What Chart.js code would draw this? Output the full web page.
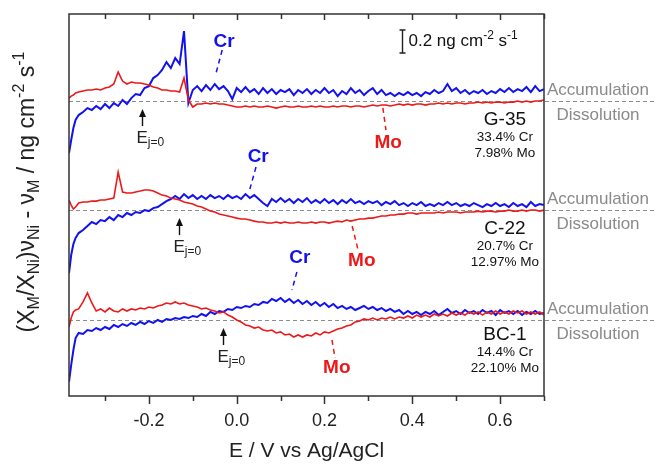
<!DOCTYPE html>
<html>
<head>
<meta charset="utf-8">
<script src="https://cdn.jsdelivr.net/npm/chart.js@4.4.1/dist/chart.umd.min.js"></script>
<style>
  html, body { margin: 0; padding: 0; background: #fff; }
  #wrap { width: 655px; height: 464px; position: relative; }
</style>
</head>
<body>
<div id="wrap"><canvas id="chart"></canvas></div>
<script>
// potential axis (V vs Ag/AgCl)
const potential = [
  -0.382, -0.377, -0.372, -0.367,
  -0.36, -0.35, -0.34, -0.33, -0.32, -0.31, -0.30, -0.29, -0.28, -0.27,
  -0.26, -0.25, -0.24, -0.23, -0.22, -0.21, -0.20, -0.19, -0.18, -0.17,
  -0.16, -0.15, -0.14, -0.13, -0.12, -0.11, -0.10, -0.09, -0.08, -0.07,
  -0.06, -0.05, -0.04, -0.03, -0.02, -0.01, 0.00, 0.01, 0.02, 0.03,
  0.04, 0.05, 0.06, 0.07, 0.08, 0.09, 0.10, 0.11, 0.12, 0.13,
  0.14, 0.15, 0.16, 0.17, 0.18, 0.19, 0.20, 0.21, 0.22, 0.23,
  0.24, 0.25, 0.26, 0.27, 0.28, 0.29, 0.30, 0.31, 0.32, 0.33,
  0.34, 0.35, 0.36, 0.37, 0.38, 0.39, 0.40, 0.41, 0.42, 0.43,
  0.44, 0.45, 0.46, 0.47, 0.48, 0.49, 0.50, 0.51, 0.52, 0.53,
  0.54, 0.55, 0.56, 0.57, 0.58, 0.59, 0.60, 0.61, 0.62, 0.63,
  0.64, 0.65, 0.66, 0.67, 0.68, 0.69, 0.70
];

// G-35 (ng cm-2 s-1, relative to its own zero line)
const g35Cr = [
  -0.452, -0.339, -0.235, -0.165,
  -0.122, -0.096, -0.061, -0.078, -0.043, -0.070, -0.026, -0.061, -0.017, -0.043,
  0.009, -0.026, 0.026, 0.061, 0.052, 0.113, 0.130, 0.200, 0.226, 0.270,
  0.339, 0.287, 0.374, 0.322, 0.609, -0.017, 0.096, 0.130, 0.087, 0.139,
  0.096, 0.148, 0.104, 0.130, 0.087, 0.017, 0.113, 0.078, 0.122, 0.078,
  0.104, 0.061, 0.113, 0.070, 0.104, 0.061, 0.096, 0.078, 0.104, 0.052,
  0.096, 0.070, 0.104, 0.061, 0.096, 0.070, 0.113, 0.070, 0.096, 0.043,
  0.087, 0.061, 0.113, 0.070, 0.096, 0.052, 0.087, 0.113, 0.061, 0.096,
  0.052, 0.070, 0.043, 0.070, 0.052, 0.078, 0.052, 0.070, 0.043, 0.078,
  0.061, 0.096, 0.070, 0.087, 0.148, 0.087, 0.113, 0.070, 0.096, 0.061,
  0.087, 0.070, 0.096, 0.061, 0.087, 0.070, 0.104, 0.078, 0.113, 0.078,
  0.104, 0.087, 0.122, 0.078, 0.130, 0.087, 0.104
];
const g35Mo = [
  0.026, 0.043, 0.052, 0.070,
  0.078, 0.087, 0.096, 0.096, 0.104, 0.096, 0.113, 0.122, 0.148, 0.252,
  0.174, 0.148, 0.165, 0.157, 0.157, 0.148, 0.139, 0.122, 0.113, 0.096,
  0.096, 0.087, 0.087, 0.078, 0.200, 0.009, -0.052, -0.026, -0.026, -0.017,
  -0.026, -0.017, -0.026, -0.026, -0.035, -0.043, -0.052, -0.052, -0.043, -0.052,
  -0.043, -0.052, -0.052, -0.043, -0.052, -0.061, -0.052, -0.043, -0.052, -0.052,
  -0.043, -0.052, -0.052, -0.043, -0.052, -0.043, -0.052, -0.052, -0.043, -0.052,
  -0.043, -0.043, -0.052, -0.043, -0.043, -0.052, -0.043, -0.035, -0.043, -0.035,
  -0.035, -0.043, -0.035, -0.026, -0.035, -0.026, -0.035, -0.026, -0.026, -0.035,
  -0.026, -0.026, -0.017, -0.026, -0.017, -0.026, -0.017, -0.017, -0.026, -0.017,
  -0.017, -0.009, -0.017, -0.009, -0.017, -0.009, -0.009, -0.017, -0.009, -0.009,
  0, -0.009, 0, -0.009, 0, 0, 0.009
];

// C-22
const c22Cr = [
  -0.548, -0.391, -0.296, -0.243,
  -0.200, -0.174, -0.139, -0.104, -0.122, -0.087, -0.096, -0.061, -0.087, -0.043,
  -0.061, -0.026, -0.043, -0.017, -0.026, 0, -0.009, 0.017, 0.026, 0.052,
  0.078, 0.096, 0.122, 0.096, 0.139, 0.104, 0.130, 0.096, 0.122, 0.096,
  0.130, 0.104, 0.122, 0.096, 0.130, 0.104, 0.122, 0.096, 0.139, 0.104,
  0.130, 0.096, 0.061, 0.035, 0.096, 0.070, 0.104, 0.070, 0.096, 0.061,
  0.096, 0.070, 0.104, 0.061, 0.087, 0.061, 0.096, 0.061, 0.087, 0.052,
  0.087, 0.061, 0.096, 0.061, 0.078, 0.052, 0.078, 0.061, 0.078, 0.043,
  0.070, 0.052, 0.078, 0.043, 0.061, 0.035, 0.061, 0.043, 0.070, 0.035,
  0.052, 0.035, 0.061, 0.043, 0.070, 0.043, 0.061, 0.035, 0.052, 0.035,
  0.061, 0.043, 0.026, 0.052, 0.035, 0.061, 0.035, 0.052, 0.026, 0.061,
  0.035, 0.052, 0.026, 0.070, 0.035, 0.052, 0.043
];
const c22Mo = [
  0.087, 0.043, 0.009, 0.026,
  0.061, 0.070, 0.070, 0.078, 0.078, 0.087, 0.087, 0.096, 0.104, 0.330,
  0.157, 0.148, 0.148, 0.157, 0.165, 0.174, 0.174, 0.165, 0.148, 0.130,
  0.122, 0.104, 0.096, 0.087, 0.070, 0.061, 0.052, 0.035, 0.026, 0.009,
  -0.009, -0.017, -0.035, -0.043, -0.052, -0.061, -0.070, -0.078, -0.078, -0.087,
  -0.096, -0.104, -0.104, -0.113, -0.113, -0.104, -0.113, -0.104, -0.113, -0.113,
  -0.104, -0.113, -0.113, -0.104, -0.113, -0.104, -0.104, -0.113, -0.104, -0.096,
  -0.104, -0.087, -0.096, -0.087, -0.078, -0.078, -0.070, -0.070, -0.061, -0.052,
  -0.052, -0.043, -0.043, -0.035, -0.035, -0.026, -0.026, -0.035, -0.026, -0.026,
  -0.026, -0.026, -0.017, -0.026, -0.017, -0.017, -0.017, -0.026, -0.017, -0.017,
  -0.017, -0.009, -0.017, -0.009, -0.009, -0.017, -0.009, -0.009, 0, -0.009,
  -0.009, 0, -0.009, 0, 0, -0.009, 0
];

// BC-1
const bc1Cr = [
  -0.539, -0.391, -0.261, -0.157,
  -0.113, -0.122, -0.087, -0.096, -0.070, -0.087, -0.061, -0.078, -0.043, -0.061,
  -0.035, -0.052, -0.026, -0.043, -0.017, -0.035, -0.009, -0.026, 0, -0.017,
  0.009, 0, 0.017, 0.009, 0.026, 0.017, 0.035, 0.026, 0.052, 0.035,
  0.070, 0.052, 0.078, 0.070, 0.096, 0.087, 0.113, 0.104, 0.122, 0.113,
  0.139, 0.130, 0.157, 0.148, 0.183, 0.165, 0.191, 0.157, 0.183, 0.148,
  0.174, 0.139, 0.165, 0.130, 0.157, 0.122, 0.148, 0.113, 0.139, 0.104,
  0.122, 0.096, 0.113, 0.087, 0.104, 0.122, 0.096, 0.113, 0.087, 0.104,
  0.078, 0.096, 0.070, 0.087, 0.052, 0.078, 0.052, 0.070, 0.043, 0.070,
  0.052, 0.078, 0.043, 0.070, 0.096, 0.061, 0.078, 0.052, 0.087, 0.061,
  0.078, 0.052, 0.087, 0.061, 0.078, 0.043, 0.087, 0.061, 0.078, 0.052,
  0.078, 0.043, 0.070, 0.052, 0.078, 0.052, 0.061
];
const bc1Mo = [
  -0.061, 0.017, 0.070, 0.087,
  0.096, 0.157, 0.235, 0.148, 0.078, 0.096, 0.070, 0.104, 0.078, 0.070,
  0.096, 0.078, 0.096, 0.087, 0.104, 0.096, 0.113, 0.104, 0.122, 0.130,
  0.148, 0.139, 0.157, 0.139, 0.148, 0.130, 0.122, 0.113, 0.096, 0.104,
  0.087, 0.078, 0.061, 0.070, 0.043, 0.026, 0, -0.017, -0.043, -0.052,
  -0.070, -0.061, -0.087, -0.096, -0.087, -0.113, -0.104, -0.130, -0.122, -0.148,
  -0.130, -0.148, -0.130, -0.139, -0.113, -0.130, -0.104, -0.113, -0.096, -0.078,
  -0.070, -0.052, -0.043, -0.017, -0.009, 0.009, 0, 0.017, 0, 0.017,
  0.009, 0.026, 0.009, 0.026, 0.017, 0.035, 0.017, 0.043, 0.026, 0.043,
  0.026, 0.052, 0.035, 0.052, 0.035, 0.061, 0.043, 0.061, 0.043, 0.070,
  0.052, 0.070, 0.043, 0.070, 0.052, 0.078, 0.052, 0.070, 0.052, 0.078,
  0.061, 0.078, 0.052, 0.070, 0.052, 0.070, 0.043
];

const alloys = ["G-35", "C-22", "BC-1"];
const crContent = ["33.4% Cr", "20.7% Cr", "14.4% Cr"];
const moContent = ["7.98% Mo", "12.97% Mo", "22.10% Mo"];
const offsets = [1.904, 0.956, 0];          // vertical shift of each alloy
const zeroCurrentE = [-0.216, -0.131, -0.031]; // E at j = 0
const majorTicks = [-0.2, 0, 0.2, 0.4, 0.6];
const minorTicks = [-0.3, -0.1, 0.1, 0.3, 0.5, 0.7];

const CR_COLOR = "#1212ee";
const MO_COLOR = "#ee1818";
const FONT = "'Liberation Sans', Arial, sans-serif";

const crSeries = [g35Cr, c22Cr, bc1Cr];
const moSeries = [g35Mo, c22Mo, bc1Mo];

function toPoints(values, offset) {
  return values.map((v, i) => ({ x: potential[i], y: v + offset }));
}

const datasets = [];
alloys.forEach((name, k) => {
  datasets.push({
    label: name + " Mo",
    data: toPoints(moSeries[k], offsets[k]),
    borderColor: MO_COLOR,
    borderWidth: 1.6,
    pointRadius: 0,
    tension: 0,
  });
  datasets.push({
    label: name + " Cr",
    data: toPoints(crSeries[k], offsets[k]),
    borderColor: CR_COLOR,
    borderWidth: 2,
    pointRadius: 0,
    tension: 0,
  });
});

// text with sub/superscripts
function drawRich(ctx, parts, x, y, size, align, weight) {
  const w = weight || "normal";
  const fontFor = (p) => `${w} ${p.s ? Math.round(size * 0.68) : size}px ${FONT}`;
  const widths = parts.map((p) => {
    ctx.font = fontFor(p);
    return ctx.measureText(p.t).width;
  });
  const total = widths.reduce((a, b) => a + b, 0);
  let cx = align === "center" ? x - total / 2 : align === "right" ? x - total : x;
  ctx.textAlign = "left";
  ctx.textBaseline = "middle";
  parts.forEach((p, i) => {
    ctx.font = fontFor(p);
    const dy = p.s === "sub" ? size * 0.3 : p.s === "sup" ? -size * 0.35 : 0;
    ctx.fillText(p.t, cx, y + dy);
    cx += widths[i];
  });
}

const elementLabels = [
  { text: "Cr", color: CR_COLOR, x: -0.029, y: 2.417, line: [-0.033, 2.348, -0.047, 2.148] },
  { text: "Mo", color: MO_COLOR, x: 0.345, y: 1.539, line: [0.333, 1.844, 0.340, 1.652] },
  { text: "Cr", color: CR_COLOR, x: 0.049, y: 1.418, line: [0.044, 1.330, 0.030, 1.139] },
  { text: "Mo", color: MO_COLOR, x: 0.285, y: 0.513, line: [0.263, 0.817, 0.276, 0.617] },
  { text: "Cr", color: CR_COLOR, x: 0.144, y: 0.539, line: [0.137, 0.417, 0.126, 0.261] },
  { text: "Mo", color: MO_COLOR, x: 0.228, y: -0.417, line: [0.217, -0.174, 0.224, -0.330] },
];

const decor = {
  id: "decor",
  beforeDatasetsDraw(chart) {
    const { ctx, chartArea: a, scales: { y } } = chart;
    ctx.save();
    ctx.strokeStyle = "#8c8c8c";
    ctx.lineWidth = 1.2;
    ctx.setLineDash([4, 3]);
    offsets.forEach((o) => {
      const py = Math.round(y.getPixelForValue(o)) + 0.5;
      ctx.beginPath();
      ctx.moveTo(a.left, py);
      ctx.lineTo(chart.width, py);
      ctx.stroke();
    });
    ctx.restore();
  },
  afterDraw(chart) {
    const { ctx, chartArea: a, scales: { x, y } } = chart;
    ctx.save();

    // frame
    ctx.strokeStyle = "#333";
    ctx.lineWidth = 1.5;
    ctx.strokeRect(a.left, a.top, a.right - a.left, a.bottom - a.top);

    // ticks: bottom outward, top inward
    ctx.beginPath();
    majorTicks.forEach((v) => {
      const px = Math.round(x.getPixelForValue(v)) + 0.5;
      ctx.moveTo(px, a.bottom); ctx.lineTo(px, a.bottom + 8);
      ctx.moveTo(px, a.top); ctx.lineTo(px, a.top + 6);
    });
    minorTicks.forEach((v) => {
      const px = Math.round(x.getPixelForValue(v)) + 0.5;
      ctx.moveTo(px, a.bottom); ctx.lineTo(px, a.bottom + 5);
      ctx.moveTo(px, a.top); ctx.lineTo(px, a.top + 5);
    });
    ctx.stroke();

    // Cr / Mo labels with dashed leaders
    elementLabels.forEach((l) => {
      ctx.strokeStyle = l.color;
      ctx.lineWidth = 1.5;
      ctx.setLineDash([5, 4]);
      ctx.beginPath();
      ctx.moveTo(x.getPixelForValue(l.line[0]), y.getPixelForValue(l.line[1]));
      ctx.lineTo(x.getPixelForValue(l.line[2]), y.getPixelForValue(l.line[3]));
      ctx.stroke();
      ctx.setLineDash([]);
      ctx.fillStyle = l.color;
      ctx.font = `bold 19px ${FONT}`;
      ctx.textAlign = "center";
      ctx.textBaseline = "middle";
      ctx.fillText(l.text, x.getPixelForValue(l.x), y.getPixelForValue(l.y));
    });

    // E(j=0) arrows
    const nameDy = [19, 19, 15];
    alloys.forEach((name, k) => {
      const base = y.getPixelForValue(offsets[k]);
      const px = Math.round(x.getPixelForValue(zeroCurrentE[k])) + 0.5;
      const head = base + 8;
      const tail = base + 25;
      ctx.strokeStyle = "#111";
      ctx.fillStyle = "#111";
      ctx.lineWidth = 1.4;
      ctx.beginPath();
      ctx.moveTo(px, tail);
      ctx.lineTo(px, head + 5);
      ctx.stroke();
      ctx.beginPath();
      ctx.moveTo(px, head);
      ctx.lineTo(px - 3.5, head + 8);
      ctx.lineTo(px + 3.5, head + 8);
      ctx.closePath();
      ctx.fill();
      ctx.fillStyle = "#222";
      drawRich(ctx, [{ t: "E" }, { t: "j=0", s: "sub" }], px - 6, tail + 12, 17, "left");

      // alloy name + composition
      const cx = x.getPixelForValue(0.611);
      ctx.fillStyle = "#111";
      ctx.textAlign = "center";
      ctx.textBaseline = "middle";
      ctx.font = `19px ${FONT}`;
      ctx.fillText(name, cx, base + nameDy[k]);
      ctx.font = `13.5px ${FONT}`;
      ctx.fillText(crContent[k], cx, base + nameDy[k] + 17);
      ctx.fillText(moContent[k], cx, base + nameDy[k] + 33);

      // side labels
      ctx.fillStyle = "#8a8a8a";
      ctx.font = `17px ${FONT}`;
      ctx.fillText("Accumulation", a.right + 54, base - 11);
      ctx.fillText("Dissolution", a.right + 54, base + 14);
    });

    // scale bar 0.2 ng cm-2 s-1
    const bx = Math.round(x.getPixelForValue(0.377)) + 0.5;
    const b1 = y.getPixelForValue(2.522);
    const b2 = y.getPixelForValue(2.322);
    ctx.strokeStyle = "#222";
    ctx.lineWidth = 1.4;
    ctx.beginPath();
    ctx.moveTo(bx, b1); ctx.lineTo(bx, b2);
    ctx.moveTo(bx - 3, b1); ctx.lineTo(bx + 3, b1);
    ctx.moveTo(bx - 3, b2); ctx.lineTo(bx + 3, b2);
    ctx.stroke();
    ctx.fillStyle = "#111";
    drawRich(ctx, [
      { t: "0.2 ng cm" }, { t: "-2", s: "sup" }, { t: " s" }, { t: "-1", s: "sup" },
    ], bx + 6, (b1 + b2) / 2, 17, "left");

    // y axis title
    ctx.save();
    ctx.translate(28, 192);
    ctx.rotate(-Math.PI / 2);
    ctx.fillStyle = "#222";
    drawRich(ctx, [
      { t: "(X" }, { t: "M", s: "sub" }, { t: "/X" }, { t: "Ni", s: "sub" },
      { t: ")\u03bd" }, { t: "Ni", s: "sub" }, { t: " - \u03bd" }, { t: "M", s: "sub" },
      { t: " / ng cm" }, { t: "-2", s: "sup" }, { t: " s" }, { t: "-1", s: "sup" },
    ], 0, 0, 23, "center");
    ctx.restore();

    ctx.restore();
  },
};

const chart = new Chart(document.getElementById("chart"), {
  type: "line",
  data: { datasets: datasets },
  options: {
    responsive: true,
    maintainAspectRatio: false,
    animation: false,
    layout: { padding: { left: 69, right: 111, top: 14, bottom: 0 } },
    plugins: {
      legend: { display: false },
      tooltip: { enabled: false },
    },
    scales: {
      x: {
        type: "linear",
        min: -0.382,
        max: 0.7,
        afterBuildTicks: (scale) => {
          scale.ticks = majorTicks.map((v) => ({ value: v }));
        },
        afterFit: (scale) => {
          scale.height = 68;
        },
        ticks: {
          color: "#222",
          font: { family: FONT, size: 18 },
          padding: 6,
          maxRotation: 0,
          callback: (v) => v.toFixed(1),
        },
        grid: {
          drawOnChartArea: false,
          drawTicks: true,
          tickLength: 8,
          color: "rgba(0,0,0,0)",
        },
        border: { display: false },
        title: {
          display: true,
          text: "E / V vs Ag/AgCl",
          color: "#222",
          font: { family: FONT, size: 21 },
          padding: { top: 0, bottom: 0 },
        },
      },
      y: {
        display: false,
        min: -0.661,
        max: 2.661,
      },
    },
  },
  plugins: [decor],
});
</script>
</body>
</html>
